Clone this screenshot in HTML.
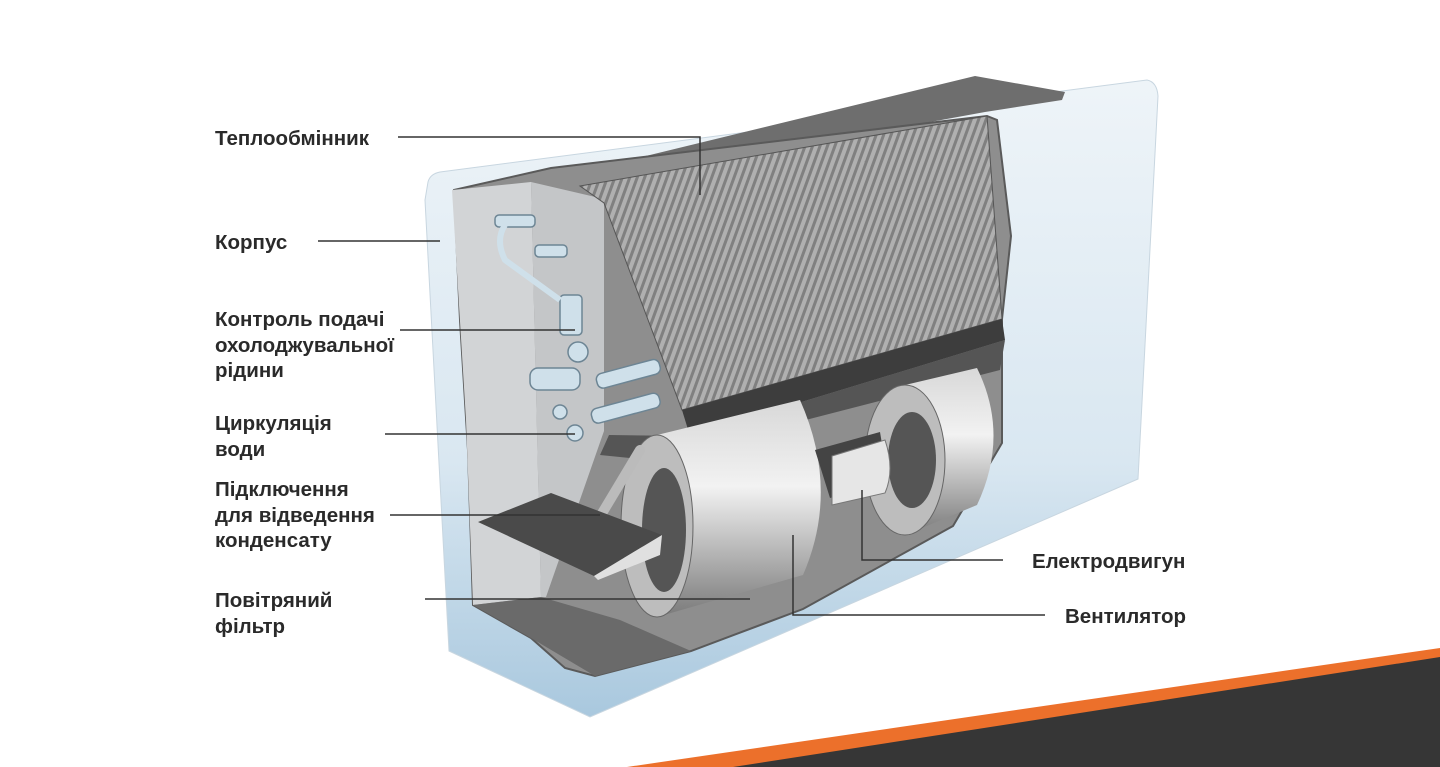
<!DOCTYPE html>
<html><head><meta charset="utf-8"><style>
html,body{margin:0;padding:0;background:#fff;}
body{width:1440px;height:767px;overflow:hidden;position:relative;font-family:"Liberation Sans","DejaVu Sans",sans-serif;}
svg{position:absolute;left:0;top:0;}
text{font-family:"Liberation Sans","DejaVu Sans",sans-serif;font-size:20.5px;font-weight:bold;fill:#2a2a2a;}
</style></head><body>
<svg width="1440" height="767" viewBox="0 0 1440 767">
<defs>
<linearGradient id="box" x1="0" y1="0" x2="0" y2="1">
<stop offset="0" stop-color="#eef4f8"/><stop offset="0.6" stop-color="#d9e7f1"/><stop offset="1" stop-color="#a9c8de"/></linearGradient>
<pattern id="fins" width="7" height="7" patternUnits="userSpaceOnUse" patternTransform="rotate(20)">
<rect width="7" height="7" fill="#b0b0b0"/><rect width="3" height="7" fill="#808080"/></pattern>
<linearGradient id="cyl" x1="0" y1="0" x2="0" y2="1">
<stop offset="0" stop-color="#d8d8d8"/><stop offset="0.4" stop-color="#f2f2f2"/><stop offset="1" stop-color="#7a7a7a"/></linearGradient>
</defs>
<polygon points="627,767 1440,648 1440,767" fill="#ec702b"/>
<polygon points="733,767 1440,657 1440,767" fill="#363636"/>
<path d="M428,182 Q430,174 440,172 L1147,80 Q1157,82 1158,96 L1138,479 L590,717 L449,651 L425,200 Z" fill="url(#box)" stroke="#c8d6e0"/>
<!-- top grille -->
<polygon points="555,178 975,76 1065,92 1062,100 985,112 580,186" fill="#6e6e6e"/>
<polygon points="454,190 551,168 987,116 997,120 1011,236 1002,319 1002,443 953,526 803,609 691,651 595,676 565,668 531,638 473,605 468,450 460,320" fill="#8e8e8e" stroke="#5a5a5a" stroke-width="2"/>
<polygon points="452,190 531,182 541,597 473,605 466,420" fill="#d2d4d6"/>
<polygon points="531,182 604,199 604,431 546,597 541,597" fill="#c4c6c8"/>
<polygon points="473,605 541,597 620,620 691,651 595,676 531,638" fill="#6a6a6a"/>
<polygon points="580,186 987,116 1002,319 682,410 604,203" fill="url(#fins)" stroke="#555"/>
<polygon points="682,410 1002,319 1005,340 690,436" fill="#3d3d3d"/>
<polygon points="609,435 690,436 1005,340 1000,370 650,460 600,455" fill="#555"/>
<g fill="#cfe0ea" stroke="#6d8594" stroke-width="1.5">
<rect x="495" y="215" width="40" height="12" rx="4"/>
<rect x="535" y="245" width="32" height="12" rx="4"/>
<rect x="560" y="295" width="22" height="40" rx="4"/>
<circle cx="578" cy="352" r="10"/>
<rect x="530" y="368" width="50" height="22" rx="8"/>
<rect x="595" y="375" width="65" height="15" rx="6" transform="rotate(-15 595 375)"/>
<rect x="590" y="410" width="70" height="15" rx="6" transform="rotate(-15 590 410)"/>
<circle cx="560" cy="412" r="7"/><circle cx="575" cy="433" r="8"/>
</g>
<path d="M505,225 Q495,240 505,260 L560,300" stroke="#cfe0ea" stroke-width="6" fill="none"/>
<path d="M657,435 L800,400 Q840,490 803,575 L657,617 Z" fill="url(#cyl)"/>
<ellipse cx="657" cy="526" rx="36" ry="91" fill="#bdbdbd" stroke="#666"/>
<ellipse cx="664" cy="530" rx="22" ry="62" fill="#555"/>
<path d="M905,385 L977,368 Q1010,435 977,505 L905,535 Z" fill="url(#cyl)"/>
<ellipse cx="905" cy="460" rx="40" ry="75" fill="#bdbdbd" stroke="#666"/>
<ellipse cx="912" cy="460" rx="24" ry="48" fill="#555"/>
<polygon points="815,450 880,432 888,480 830,498" fill="#444"/>
<path d="M832,456 L885,440 Q895,470 885,493 L832,505 Z" fill="#e6e6e6" stroke="#777"/>
<line x1="640" y1="450" x2="598" y2="520" stroke="#bbb" stroke-width="10" stroke-linecap="round"/>
<polygon points="478,522 551,493 662,535 594,576" fill="#4a4a4a"/>
<polygon points="594,576 662,535 660,555 598,580" fill="#e0e0e0"/>
<g stroke="#333" stroke-width="1.5" fill="none">
<polyline points="398,137 700,137 700,195"/>
<line x1="318" y1="241" x2="440" y2="241"/>
<line x1="400" y1="330" x2="575" y2="330"/>
<line x1="385" y1="434" x2="575" y2="434"/>
<line x1="390" y1="515" x2="600" y2="515"/>
<line x1="425" y1="599" x2="750" y2="599"/>
<polyline points="1003,560 862,560 862,490"/>
<polyline points="1045,615 793,615 793,535"/>
</g>
<text x="215" y="145">Теплообмінник</text>
<text x="215" y="249">Корпус</text>
<text x="215" y="326">Контроль подачі</text>
<text x="215" y="352">охолоджувальної</text>
<text x="215" y="377">рідини</text>
<text x="215" y="430">Циркуляція</text>
<text x="215" y="456">води</text>
<text x="215" y="496">Підключення</text>
<text x="215" y="522">для відведення</text>
<text x="215" y="547">конденсату</text>
<text x="215" y="607">Повітряний</text>
<text x="215" y="633">фільтр</text>
<text x="1032" y="568">Електродвигун</text>
<text x="1065" y="623">Вентилятор</text>
</svg>
</body></html>
